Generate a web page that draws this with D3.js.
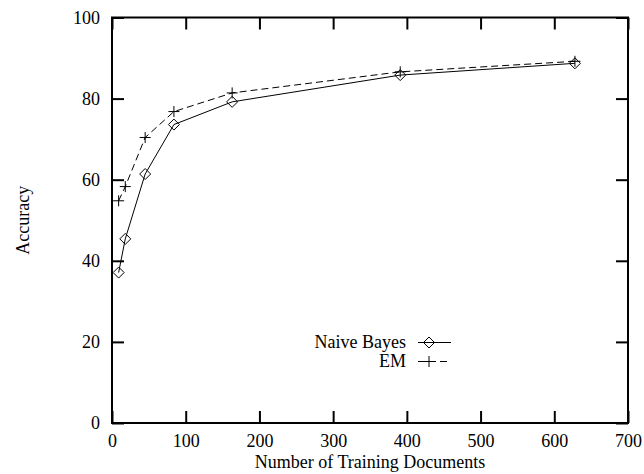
<!DOCTYPE html>
<meta charset="utf-8">
<style>
  body { margin: 0; background: #fff; }
  text { font-family: "Liberation Serif", "Times New Roman", serif; font-size: 18px; fill: #000; }
  .frame { fill: none; stroke: #000; stroke-width: 2px; }
  .tick line { stroke: #000; stroke-width: 2px; }
  .line { fill: none; stroke: #000; stroke-width: 1px; }
  .mark { fill: none; stroke: #000; stroke-width: 1px; }
</style>
<body>
<svg width="644" height="474"></svg>
<script src="https://cdnjs.cloudflare.com/ajax/libs/d3/7.8.5/d3.min.js"></script>
<script>
// data ---------------------------------------------------------------------
var docs = [9, 18, 45, 84, 163, 391, 628];
var naiveBayes = [37.1, 45.4, 61.4, 73.6, 79.2, 85.8, 88.7];
var em = [54.8, 58.3, 70.4, 76.8, 81.4, 86.6, 89.2];
var xTicks = [0, 100, 200, 300, 400, 500, 600, 700];
var yTicks = [0, 20, 40, 60, 80, 100];
var seriesNames = ["Naive Bayes", "EM"];
//--------------------------------------------------------------------------

const svg = d3.select("svg");
const pLeft = 112, pRight = 628, pTop = 17.5, pBottom = 423;

const x = d3.scaleLinear().domain([0, 700]).range([pLeft, pRight]);
const y = d3.scaleLinear().domain([0, 100]).range([pBottom, pTop]);

// axes, ticks pointing inward on all four sides
svg.append("g")
  .attr("transform", `translate(0,${pBottom})`)
  .call(d3.axisBottom(x).tickValues(xTicks).tickSize(-12).tickSizeOuter(0).tickPadding(11));
svg.append("g")
  .attr("transform", `translate(0,${pTop})`)
  .call(d3.axisTop(x).tickValues(xTicks).tickSize(-12).tickSizeOuter(0).tickFormat(""));
svg.append("g")
  .attr("transform", `translate(${pLeft},0)`)
  .call(d3.axisLeft(y).tickValues(yTicks).tickSize(-12).tickSizeOuter(0).tickPadding(12));
svg.append("g")
  .attr("transform", `translate(${pRight},0)`)
  .call(d3.axisRight(y).tickValues(yTicks).tickSize(-12).tickSizeOuter(0).tickFormat(""));

svg.selectAll(".domain").remove();
svg.selectAll(".tick text")
  .attr("font-family", null)
  .style("font-family", '"Liberation Serif", serif')
  .style("font-size", "18px");
svg.selectAll("g").attr("font-family", null).attr("font-size", null);

svg.append("rect")
  .attr("class", "frame")
  .attr("x", pLeft).attr("y", pTop)
  .attr("width", pRight - pLeft).attr("height", pBottom - pTop);

// axis titles
svg.append("text")
  .attr("x", (pLeft + pRight) / 2).attr("y", 468)
  .attr("text-anchor", "middle")
  .text("Number of Training Documents");
svg.append("text")
  .attr("transform", `translate(29,${(pTop + pBottom) / 2}) rotate(-90)`)
  .attr("text-anchor", "middle")
  .text("Accuracy");

// lines and markers
const line = d3.line().x(d => x(d[0])).y(d => y(d[1]));
const nbData = docs.map((d, i) => [d, naiveBayes[i]]);
const emData = docs.map((d, i) => [d, em[i]]);

svg.append("path").datum(nbData).attr("class", "line").attr("d", line);
svg.append("path").datum(emData).attr("class", "line")
  .attr("stroke-dasharray", "7,4").attr("d", line);

function diamond(g, cx, cy) {
  const r = 5.5;
  g.append("path").attr("class", "mark").attr("fill", "#fff")
    .attr("d", `M${cx},${cy - r}L${cx + r},${cy}L${cx},${cy + r}L${cx - r},${cy}Z`);
}
function plus(g, cx, cy) {
  const r = 5.5;
  g.append("path").attr("class", "mark")
    .attr("d", `M${cx - r},${cy}H${cx + r}M${cx},${cy - r}V${cy + r}`);
}

const marks = svg.append("g");
nbData.forEach(d => diamond(marks, x(d[0]), y(d[1])));
emData.forEach(d => plus(marks, x(d[0]), y(d[1])));

// legend
const legend = svg.append("g");
const legendRows = [342.5, 361.5];
seriesNames.forEach((name, i) => {
  const ly = legendRows[i];
  legend.append("text")
    .attr("x", 406).attr("y", ly + 5.5)
    .attr("text-anchor", "end")
    .text(name);
  legend.append("line")
    .attr("class", "line")
    .attr("x1", 418).attr("x2", 451)
    .attr("y1", ly).attr("y2", ly)
    .attr("stroke-dasharray", i === 1 ? "7,4" : null);
  if (i === 0) diamond(legend, 429, ly);
  else plus(legend, 429, ly);
});
</script>
</body>
